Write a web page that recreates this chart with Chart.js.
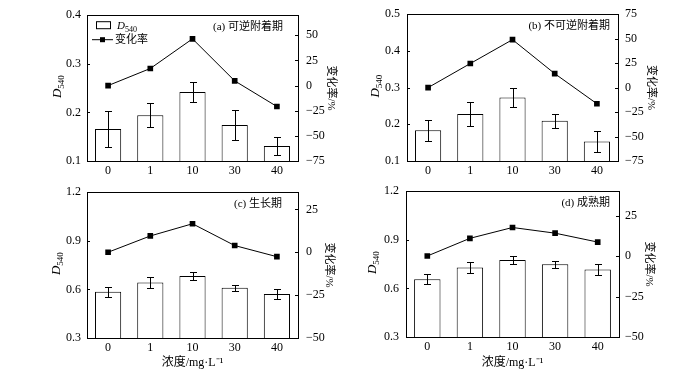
<!DOCTYPE html>
<html>
<head>
<meta charset="utf-8">
<script src="https://cdn.jsdelivr.net/npm/chart.js@4.4.0/dist/chart.umd.min.js"></script>
<style>
  body { margin: 0; background: #fff; }
  #wrap { position: relative; width: 700px; height: 370px; overflow: hidden; }
  #wrap canvas { position: absolute; }
</style>
</head>
<body>
<div id="wrap">
  <canvas id="cA"></canvas>
  <canvas id="cB"></canvas>
  <canvas id="cC"></canvas>
  <canvas id="cD"></canvas>
</div>
<script>
const concentrations = ["0", "1", "10", "30", "40"];

// (a) reversible attachment
const odA = [0.166, 0.194, 0.242, 0.174, 0.131];
const errA = [0.037, 0.025, 0.020, 0.030, 0.018];
const rateA = [0, 17, 46.5, 4.7, -20.8];
// (b) irreversible attachment
const odB = [0.184, 0.228, 0.273, 0.210, 0.153];
const errB = [0.029, 0.033, 0.025, 0.019, 0.029];
const rateB = [0, 24.6, 49, 14.3, -16.5];
// (c) growth
const odC = [0.585, 0.642, 0.683, 0.610, 0.571];
const errC = [0.030, 0.033, 0.025, 0.020, 0.030];
const rateC = [0, 9.5, 16.6, 3.9, -2.6];
// (d) maturity
const odD = [0.656, 0.729, 0.775, 0.749, 0.716];
const errD = [0.030, 0.033, 0.025, 0.021, 0.032];
const rateD = [0, 10.9, 17.6, 14.1, 8.6];

const leftTicksA = [0.1, 0.2, 0.3, 0.4];
const rightTicksA = [-75, -50, -25, 0, 25, 50];
const leftTicksB = [0.1, 0.2, 0.3, 0.4, 0.5];
const rightTicksB = [-75, -50, -25, 0, 25, 50, 75];
const leftTicksCD = [0.3, 0.6, 0.9, 1.2];
const rightTicksCD = [-50, -25, 0, 25];

const SERIF = "'Liberation Serif', 'Times New Roman', 'Noto Sans CJK SC', serif";

// layout of each panel (canvas box + plot box, page coords)
const panels = [
  { id: 'cA', title: '(a) 可逆附着期', od: odA, err: errA, rate: rateA,
    lt: leftTicksA, rt: rightTicksA, rMax: 70, xTitle: false, legend: true,
    box: [0, 0, 350, 180], plot: [87, 298, 8, 161], lp: 6, rp: 8, rtp: 13, dOff: 30, tOff: 15 },
  { id: 'cB', title: '(b) 不可逆附着期', od: odB, err: errB, rate: rateB,
    lt: leftTicksB, rt: rightTicksB, rMax: 75, xTitle: false, legend: false,
    box: [350, 0, 350, 180], plot: [407, 618, 8, 161], lp: 7, rp: 7, rtp: 43, dOff: 32, tOff: 8 },
  { id: 'cC', title: '(c) 生长期', od: odC, err: errC, rate: rateC,
    lt: leftTicksCD, rt: rightTicksCD, rMax: 35, xTitle: true, legend: false,
    box: [0, 177, 350, 193], plot: [87, 298, 185, 338], lp: 6, rp: 8, rtp: 15, dOff: 31, tOff: 16 },
  { id: 'cD', title: '(d) 成熟期', od: odD, err: errD, rate: rateD,
    lt: leftTicksCD, rt: rightTicksCD, rMax: 40, xTitle: true, legend: false,
    box: [350, 177, 350, 193], plot: [406, 619, 185, 337], lp: 7, rp: 6, rtp: 45, dOff: 34, tOff: 9 }
];

function drawD540(ctx, x, y, size) {
  ctx.save();
  ctx.fillStyle = '#000';
  ctx.textBaseline = 'alphabetic';
  ctx.textAlign = 'left';
  ctx.font = 'italic ' + size + 'px ' + SERIF;
  const wD = ctx.measureText('D').width;
  ctx.font = Math.round(size * 0.72) + 'px ' + SERIF;
  ctx.fillText('540', x + wD, y + size * 0.22);
  ctx.font = 'italic ' + size + 'px ' + SERIF;
  ctx.fillText('D', x, y);
  ctx.restore();
}

const extras = {
  id: 'extras',
  afterDatasetsDraw(chart, args, opts) {
    const p = opts.panel;
    const ctx = chart.ctx;
    const ca = chart.chartArea;
    const ys = chart.scales.y, ys2 = chart.scales.y2;
    ctx.save();
    ctx.strokeStyle = '#000';
    ctx.lineWidth = 1;
    // error bars
    const meta = chart.getDatasetMeta(0);
    meta.data.forEach((bar, i) => {
      const x = Math.round(bar.x) + 0.5;
      const y1 = Math.round(ys.getPixelForValue(p.od[i] + p.err[i])) + 0.5;
      const y2 = Math.round(ys.getPixelForValue(p.od[i] - p.err[i])) + 0.5;
      ctx.beginPath();
      ctx.moveTo(x, y1); ctx.lineTo(x, y2);
      ctx.moveTo(x - 3.5, y1); ctx.lineTo(x + 3.5, y1);
      ctx.moveTo(x - 3.5, y2); ctx.lineTo(x + 3.5, y2);
      ctx.stroke();
    });
    // frame
    ctx.strokeRect(Math.round(ca.left) + 0.5, Math.round(ca.top) + 0.5,
      Math.round(ca.right - ca.left), Math.round(ca.bottom - ca.top));
    // inward ticks
    ctx.beginPath();
    ys.ticks.forEach(t => {
      const y = Math.round(ys.getPixelForValue(t.value)) + 0.5;
      ctx.moveTo(ca.left, y); ctx.lineTo(ca.left + 3, y);
    });
    ys2.ticks.forEach(t => {
      const y = Math.round(ys2.getPixelForValue(t.value)) + 0.5;
      ctx.moveTo(ca.right, y); ctx.lineTo(ca.right - 3, y);
    });
    ctx.stroke();

    // panel label
    ctx.fillStyle = '#000';
    ctx.font = '11px ' + SERIF;
    ctx.textAlign = 'right';
    ctx.textBaseline = 'middle';
    ctx.fillText(p.title, ca.right - p.tOff, ca.top + 12);

    // left axis title D540 (rotated)
    ctx.save();
    ctx.translate(ca.left - p.dOff, (ca.top + ca.bottom) / 2 + 10);
    ctx.rotate(-Math.PI / 2);
    drawD540(ctx, 0, 4, 13);
    ctx.restore();

    // legend
    if (p.legend) {
      const lx = ca.left + 9, ly = ca.top + 10;
      ctx.lineWidth = 1;
      ctx.strokeRect(lx + 0.5, ly - 3.5, 14, 7);
      drawD540(ctx, lx + 21, ly + 4, 11);
      const my = ly + 14.5;
      ctx.beginPath();
      ctx.moveTo(ca.left + 5, my); ctx.lineTo(ca.left + 26, my);
      ctx.stroke();
      ctx.fillRect(ca.left + 13, my - 2.5, 5, 5);
      ctx.font = '11px ' + SERIF;
      ctx.textAlign = 'left';
      ctx.textBaseline = 'middle';
      ctx.fillText('变化率', ca.left + 28, my);
    }
    ctx.restore();
  }
};

panels.forEach(p => {
  const cv = document.getElementById(p.id);
  const [bx, by, bw, bh] = p.box;
  const [pl, pr, pt, pb] = p.plot;
  cv.width = bw; cv.height = bh;
  cv.style.left = bx + 'px'; cv.style.top = by + 'px';
  cv.style.width = bw + 'px'; cv.style.height = bh + 'px';

  new Chart(cv.getContext('2d'), {
    type: 'bar',
    data: {
      labels: concentrations,
      datasets: [
        { type: 'bar', label: 'D540', data: p.od, yAxisID: 'y', order: 2,
          backgroundColor: '#fff', borderColor: '#000', borderWidth: 1,
          borderSkipped: false, barPercentage: 0.62, categoryPercentage: 1 },
        { type: 'line', label: '变化率', data: p.rate, yAxisID: 'y2', order: 1,
          borderColor: '#000', borderWidth: 1, backgroundColor: '#000',
          pointStyle: 'rect', pointRadius: 4, pointBackgroundColor: '#000',
          pointBorderWidth: 0, tension: 0 }
      ]
    },
    options: {
      responsive: false,
      animation: false,
      devicePixelRatio: 1,
      layout: { padding: { top: pt - by, left: 0, right: 0, bottom: 0 } },
      plugins: {
        legend: { display: false },
        tooltip: { enabled: false },
        extras: { panel: p }
      },
      scales: {
        x: {
          grid: { display: false, drawTicks: false },
          border: { display: false },
          ticks: { color: '#000', padding: 3, font: { family: SERIF, size: 12 } },
          title: { display: p.xTitle, text: '浓度/mg·L⁻¹', color: '#000',
            font: { family: SERIF, size: 12 }, padding: { top: 3, bottom: 0 } },
          afterFit: s => { s.height = by + bh - pb; }
        },
        y: {
          position: 'left',
          min: p.lt[0], max: p.lt[p.lt.length - 1],
          grid: { display: false, drawTicks: false },
          border: { display: false },
          ticks: { color: '#000', padding: p.lp, font: { family: SERIF, size: 12 },
            callback: v => v.toFixed(1) },
          afterBuildTicks: s => { s.ticks = p.lt.map(v => ({ value: v })); },
          afterFit: s => { s.width = pl - bx; }
        },
        y2: {
          position: 'right',
          min: p.rt[0], max: p.rMax,
          grid: { display: false, drawTicks: false },
          border: { display: false },
          ticks: { color: '#000', padding: p.rp, font: { family: SERIF, size: 12 },
            callback: v => String(v).replace('-', '−') },
          afterBuildTicks: s => { s.ticks = p.rt.map(v => ({ value: v })); },
          title: { display: true, text: '变化率/%', color: '#000',
            font: { family: SERIF, size: 11 }, padding: { top: p.rtp, bottom: 0 } },
          afterFit: s => { s.width = bx + bw - pr; }
        }
      }
    },
    plugins: [extras]
  });
});
</script>
</body>
</html>
